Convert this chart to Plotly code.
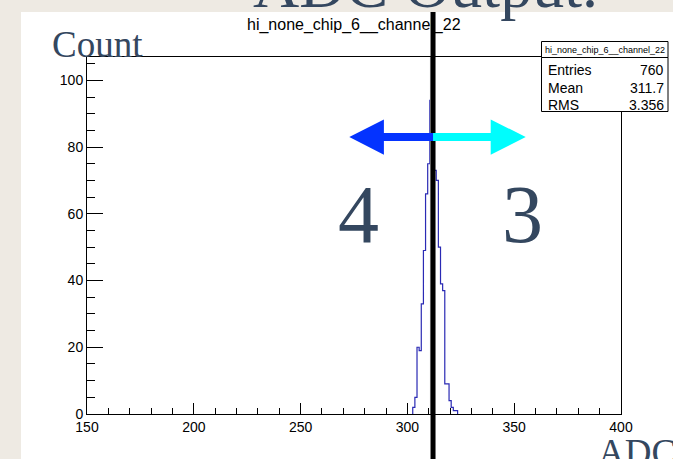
import plotly.graph_objects as go

# ---------------- data ----------------
bin_centres = [303, 304, 305, 306, 307, 308, 309, 310, 311, 312, 313,
               314, 315, 316, 317, 318, 319, 320, 321, 322, 323]
counts = [2, 5, 20, 19, 33, 49, 66, 75, 94, 102, 73,
          70, 50, 39, 37, 9, 9, 4, 2, 1, 1]
x_ticks = [150, 200, 250, 300, 350, 400]
y_ticks = [0, 20, 40, 60, 80, 100]
hist_name = "hi_none_chip_6__channel_22"
stat_labels = ["Entries", "Mean", "RMS"]
stat_values = ["760", "311.7", "3.356"]
marker_x = 312          # vertical black line position (ADC)

# ---------------- geometry (pixels of the 673x459 page) ----------------
W, H = 673, 459
L, R, T, B = 87, 621, 57, 414   # frame edges in pixels


def px(xp):
    return (xp - L) / (R - L)


def py(yp):
    return (B - yp) / (B - T)


# histogram outline as a step line
edges = [c - 0.5 for c in bin_centres] + [bin_centres[-1] + 0.5]
hx = [edges[0]] + edges[:-1] + [edges[-1]]
hy = [0] + counts + [0]

fig = go.Figure()
fig.add_trace(go.Scatter(x=hx, y=hy, mode="lines", line_shape="hv",
                         line=dict(color="#2a2ab4", width=1.2),
                         hoverinfo="skip", showlegend=False))

serif = "Liberation Serif"
sans = "Liberation Sans"
slate = "#34475f"
beige = "#eeeae3"

shapes = []
# white canvas on beige slide
shapes.append(dict(type="rect", xref="paper", yref="paper",
                   x0=px(21), x1=px(W + 5), y0=py(H + 5), y1=py(12),
                   fillcolor="white", line=dict(width=0), layer="below"))
# thin grey line next to the black marker
shapes.append(dict(type="line", xref="x", yref="paper",
                   x0=marker_x - 1.1, x1=marker_x - 1.1, y0=py(B), y1=py(T),
                   line=dict(color="#b8b8b8", width=1.5)))
# black vertical marker line
shapes.append(dict(type="line", xref="x", yref="paper",
                   x0=marker_x, x1=marker_x, y0=py(H + 5), y1=py(12),
                   line=dict(color="black", width=5)))

# arrows (data coordinates)
ay = 83.0
shaft = 1.2
head = 5.3
xl_tip, xl_base = 272.8, 289.0
xr_base, xr_tip = 339.0, 355.4
left_path = (f"M {xl_tip},{ay} L {xl_base},{ay + head} L {xl_base},{ay + shaft} "
             f"L {marker_x},{ay + shaft} L {marker_x},{ay - shaft} "
             f"L {xl_base},{ay - shaft} L {xl_base},{ay - head} Z")
right_path = (f"M {xr_tip},{ay} L {xr_base},{ay + head} L {xr_base},{ay + shaft} "
              f"L {marker_x},{ay + shaft} L {marker_x},{ay - shaft} "
              f"L {xr_base},{ay - shaft} L {xr_base},{ay - head} Z")
shapes.append(dict(type="path", xref="x", yref="y", path=left_path,
                   fillcolor="#0433ff", line=dict(width=0)))
shapes.append(dict(type="path", xref="x", yref="y", path=right_path,
                   fillcolor="#00fdfd", line=dict(width=0)))

# stats box
bx0, bx1 = 541.5, 668
by0, bmid, by1 = 41.5, 57.5, 111.5
shapes.append(dict(type="rect", xref="paper", yref="paper",
                   x0=px(bx0), x1=px(bx1), y0=py(bmid), y1=py(by0),
                   fillcolor="white", line=dict(color="black", width=1)))
shapes.append(dict(type="rect", xref="paper", yref="paper",
                   x0=px(bx0), x1=px(bx1), y0=py(by1), y1=py(bmid),
                   fillcolor="white", line=dict(color="black", width=1)))

ann = []
# slide title (mostly cut off at top)
ann.append(dict(text="ADC Output.", xref="paper", yref="paper",
                x=px(425), y=py(-15), xanchor="center", yanchor="middle",
                showarrow=False, font=dict(family=serif, size=64, color=slate)))
# histogram title
ann.append(dict(text=hist_name, xref="paper", yref="paper",
                x=px(354), y=py(25), xanchor="center", yanchor="middle",
                showarrow=False, font=dict(family=sans, size=16, color="black")))
# axis labels
ann.append(dict(text="Count", xref="paper", yref="paper",
                x=px(50), y=py(45), xanchor="left", yanchor="middle",
                showarrow=False, font=dict(family=serif, size=37, color=slate)))
ann.append(dict(text="ADC", xref="paper", yref="paper",
                x=px(596), y=py(452), xanchor="left", yanchor="middle",
                showarrow=False, font=dict(family=serif, size=37, color=slate)))
# 4 and 3
ann.append(dict(text="4", xref="paper", yref="paper",
                x=px(358), y=py(214), xanchor="center", yanchor="middle",
                showarrow=False, font=dict(family=serif, size=82, color=slate)))
ann.append(dict(text="3", xref="paper", yref="paper",
                x=px(522), y=py(214), xanchor="center", yanchor="middle",
                showarrow=False, font=dict(family=serif, size=82, color=slate)))
# stats box text
ann.append(dict(text=hist_name, xref="paper", yref="paper",
                x=px((bx0 + bx1) / 2), y=py((by0 + bmid) / 2),
                xanchor="center", yanchor="middle", showarrow=False,
                font=dict(family=sans, size=9, color="black")))
row_y = [70, 87.5, 104.5]
for lab, val, yy in zip(stat_labels, stat_values, row_y):
    ann.append(dict(text=lab, xref="paper", yref="paper", x=px(546), y=py(yy),
                    xanchor="left", yanchor="middle", showarrow=False,
                    font=dict(family=sans, size=14, color="black")))
    ann.append(dict(text=val, xref="paper", yref="paper", x=px(666), y=py(yy),
                    xanchor="right", yanchor="middle", showarrow=False,
                    font=dict(family=sans, size=14, color="black")))

fig.update_layout(
    width=W, height=H,
    margin=dict(l=L, r=W - R, t=T, b=H - B, pad=0),
    paper_bgcolor=beige,
    plot_bgcolor="white",
    showlegend=False,
    shapes=shapes,
    annotations=ann,
    xaxis=dict(range=[150, 400], tickvals=x_ticks, ticktext=[str(v) for v in x_ticks],
               ticks="inside", ticklen=11, tickwidth=1, tickcolor="black",
               minor=dict(ticks="inside", ticklen=6, dtick=10, tick0=150,
                          tickcolor="black", tickwidth=1),
               showline=True, linecolor="black", linewidth=1, mirror=True,
               showgrid=False, zeroline=False,
               tickfont=dict(family=sans, size=14, color="black")),
    yaxis=dict(range=[0, 107], tickvals=y_ticks, ticktext=[str(v) for v in y_ticks],
               ticks="inside", ticklen=16, tickwidth=1, tickcolor="black",
               minor=dict(ticks="inside", ticklen=8, dtick=5, tick0=0,
                          tickcolor="black", tickwidth=1),
               showline=True, linecolor="black", linewidth=1, mirror=True,
               showgrid=False, zeroline=False,
               tickfont=dict(family=sans, size=14, color="black")),
)

fig.write_html("out.html",
               config={"displayModeBar": False},
               post_script="document.body.style.margin='0';"
                           "document.body.style.background='" + beige + "';"
                           "document.body.style.overflow='hidden';")
